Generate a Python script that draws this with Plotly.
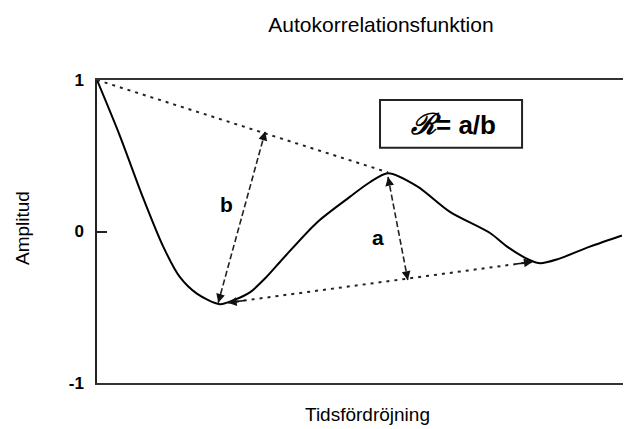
import plotly.graph_objects as go

# --- data ---
lag = [0, 0.43, 0.86, 1.24, 1.55, 1.87, 2.30, 2.58, 2.87, 3.16, 3.48, 4.12, 4.74,
       5.11, 5.45, 5.99, 6.61, 7.36, 7.68, 8.11, 8.30, 8.61, 9.23, 9.83]
acf = [1.0, 0.63, 0.225, -0.10, -0.30, -0.41, -0.48, -0.45, -0.40, -0.305, -0.18, 0.06, 0.23,
       0.325, 0.385, 0.30, 0.13, -0.01, -0.10, -0.19, -0.21, -0.185, -0.10, -0.026]

upper_x = [0.0, 5.45]
upper_y = [1.0, 0.39]
lower_x = [2.45, 8.16]
lower_y = [-0.47, -0.20]
b_x = [2.27, 3.15]
b_y = [-0.47, 0.66]
a_x = [5.45, 5.82]
a_y = [0.36, -0.32]

ytick_vals = [-1, 0, 1]
ytick_text = ["-1", "0", "1"]

title_text = "Autokorrelationsfunktion"
xlabel = "Tidsfördröjning"
ylabel = "Amplitud"
formula = "<span style='font-family:DejaVu Serif;font-style:italic;font-size:29px'>ℛ</span>= a/b"

FONT = "Liberation Sans, Arial, sans-serif"

fig = go.Figure()
fig.add_trace(go.Scatter(x=lag, y=acf, mode="lines",
                         line=dict(color="black", width=2, shape="spline", smoothing=0.8),
                         hoverinfo="skip"))
fig.add_trace(go.Scatter(x=upper_x, y=upper_y, mode="lines", line=dict(color="#222", width=2, dash="3px,5px")))
fig.add_trace(go.Scatter(x=lower_x, y=lower_y, mode="lines", line=dict(color="#222", width=2, dash="3px,5px")))
fig.add_trace(go.Scatter(x=b_x, y=b_y, mode="lines", line=dict(color="#222", width=1.6, dash="6px,3px")))
fig.add_trace(go.Scatter(x=a_x, y=a_y, mode="lines", line=dict(color="#222", width=1.6, dash="6px,3px")))


def head(xs, ys, tip_idx):
    other = 1 - tip_idx
    tx, ty = xs[tip_idx], ys[tip_idx]
    f = 0.06
    return dict(x=tx, y=ty, ax=tx + f * (xs[other] - tx), ay=ty + f * (ys[other] - ty),
                xref="x", yref="y", axref="x", ayref="y", showarrow=True,
                arrowhead=2, arrowsize=1.1, arrowwidth=1.6, arrowcolor="#111", text="")


for tip_set in [(b_x, b_y), (a_x, a_y), (lower_x, lower_y)]:
    for i in (0, 1):
        fig.add_annotation(**head(tip_set[0], tip_set[1], i))

fig.add_annotation(x=2.43, y=0.18, text="<b>b</b>", showarrow=False,
                   font=dict(family=FONT, size=21, color="black"))
fig.add_annotation(x=5.26, y=-0.04, text="<b>a</b>", showarrow=False,
                   font=dict(family=FONT, size=21, color="black"))

# formula box
fig.add_shape(type="rect", xref="paper", yref="paper", x0=0.530, x1=0.796, y0=0.776, y1=0.934,
              line=dict(color="#222", width=2), fillcolor="white", layer="above")
fig.add_annotation(xref="paper", yref="paper", x=(453 - 97) / 534, y=0.855, text="<b>" + formula + "</b>",
                   showarrow=False, xanchor="center", yanchor="middle",
                   font=dict(family=FONT, size=26, color="black"))

# axis titles
fig.add_annotation(xref="paper", yref="paper", x=(367 - 97) / 534, y=(383 - 414) / 303, text=xlabel,
                   xanchor="center", yanchor="middle",
                   showarrow=False, font=dict(family=FONT, size=19, color="black"))
fig.add_annotation(xref="paper", yref="paper", x=(22 - 97) / 534, y=(383 - 228) / 303, text=ylabel,
                   xanchor="center", yanchor="middle",
                   textangle=-90, showarrow=False, font=dict(family=FONT, size=19, color="black"))

fig.update_layout(
    width=623, height=421,
    margin=dict(l=89, r=0, t=72, b=46),
    paper_bgcolor="white", plot_bgcolor="white",
    showlegend=False,
    title=dict(text=title_text, xref="container", yref="container", x=373 / 623, y=1 - 17 / 421,
               xanchor="center", yanchor="middle",
               font=dict(family=FONT, size=21, color="black")),
    xaxis=dict(range=[0, 10], showgrid=False, zeroline=False, showticklabels=False, ticks="",
               showline=True, mirror=True, linecolor="#333", linewidth=2),
    yaxis=dict(range=[-1, 1], showgrid=False, zeroline=False, tickvals=ytick_vals, ticktext=ytick_text,
               ticks="inside", ticklen=10, tickwidth=1.5, tickcolor="#222",
               showline=True, linecolor="#222", linewidth=1.5, ticklabelstandoff=8,
               tickfont=dict(family=FONT, size=17, color="black", weight="bold")),
)

fig.write_html("out.html")
